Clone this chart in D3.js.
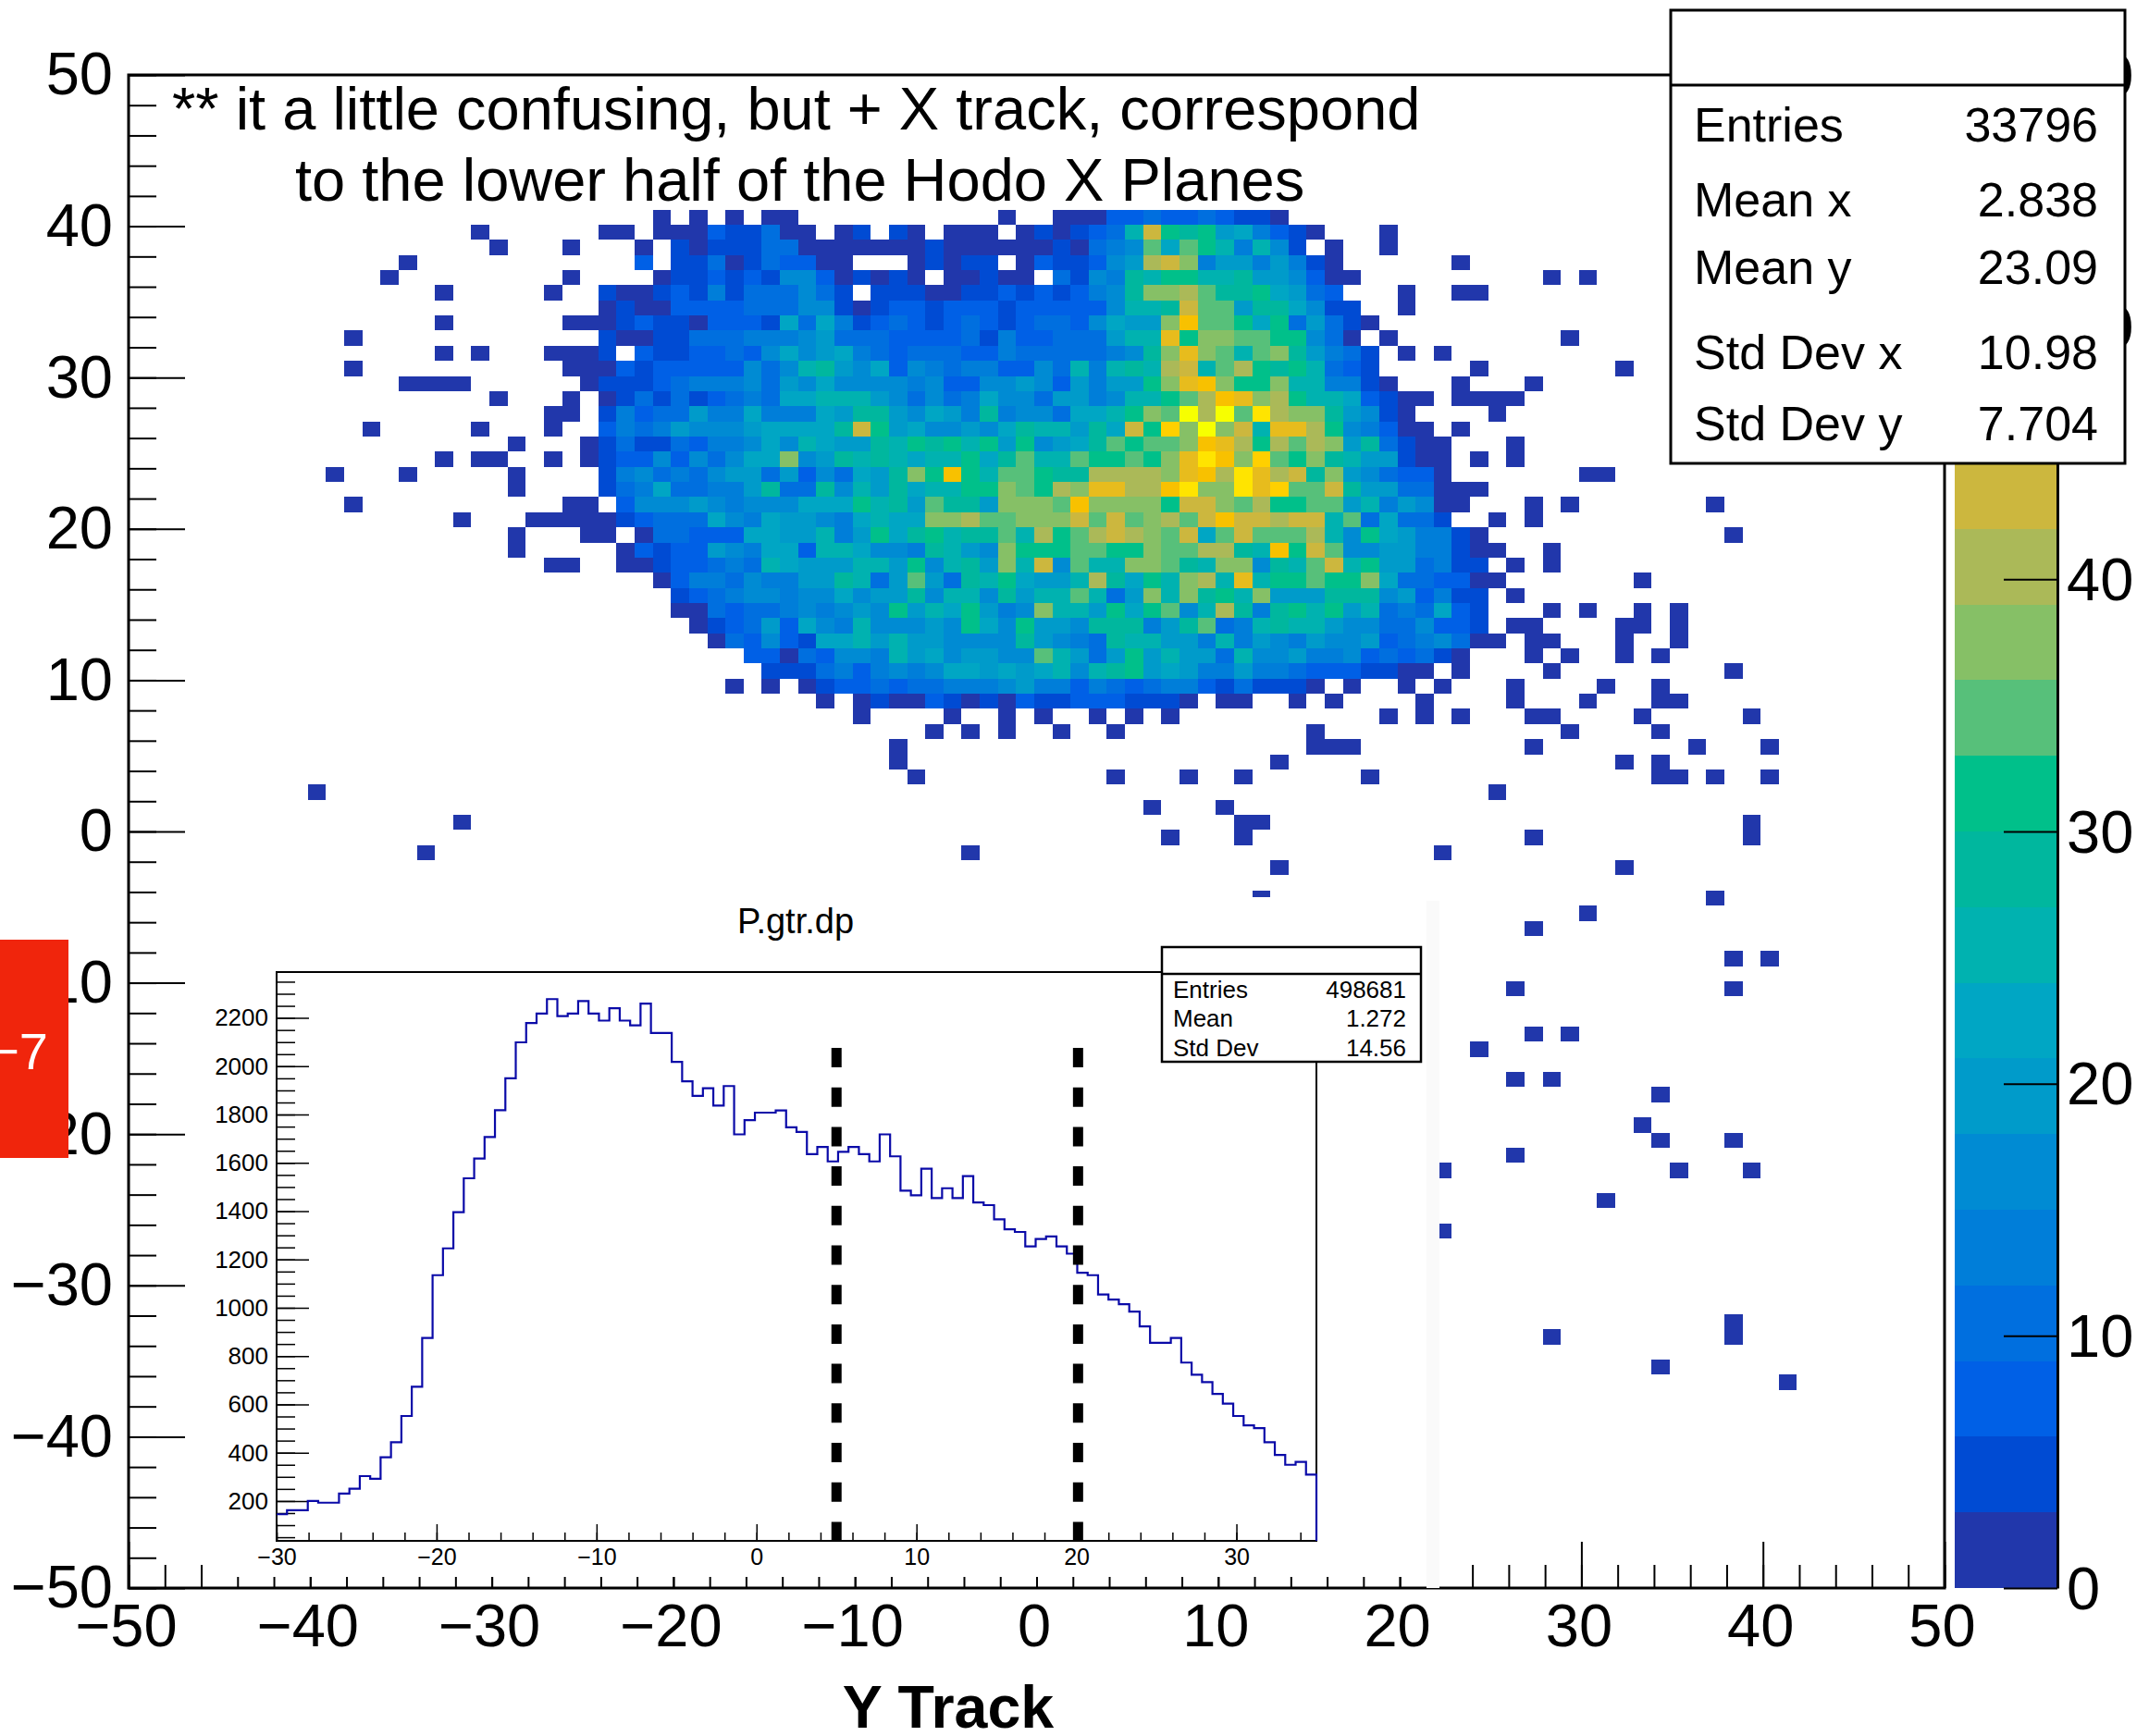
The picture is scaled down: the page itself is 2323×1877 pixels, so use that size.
<!DOCTYPE html>
<html>
<head>
<meta charset="utf-8">
<script src="https://cdn.jsdelivr.net/npm/d3@7"></script>
<style>
body { margin: 0; background: #fff; }
text { font-family: "Liberation Sans", sans-serif; fill: #000; }
</style>
</head>
<body>
<svg id="view" width="2323" height="1877"></svg>
<script>
// 2D histogram: each char is a colour band (0-9, a-j), "." is an empty bin
// columns are bins starting at x = -26.13, rows go down from y = 41.1
var coreRows = [
"..... 0.0.0 .00.. ..... ....0 ..000 22322 32110 ..... ..... .",
"..00. 00021 1300. 01.10 .000. 01012 38ea9 a6742 10... 0.... .",
"0...0 .1011 13300 00000 10000 00103 45b7b a8485 1.0.. 0.... .",
"....2 .1130 13220 0...0 1011. 02112 56dec 46646 410.. ....0 .",
"0.... 01121 21552 01010 .0010 0.315 498aa 88966 5200. ..... .",
"..100 12141 33353 1.111 00112 12124 59ccd b99a7 632.. .0..0 0",
"..010 02222 33355 10122 12221 22222 5889e bb699 7511. .0... .",
"00012 11022 21737 41232 12321 23325 766cg bba7a 36310 ..... .",
"..100 11333 44456 33322 22314 22333 688fa ccbba a530. 0.... .",
"001.2 11223 25756 74323 33224 33333 459cf cb8bc 96431 .0.0. .",
"00021 22222 53589 65725 43442 25384 898de 8bda9 a8321 ..... 0",
".0111 23444 53657 55554 52255 65264 66acf gcaac 88441 0...0 .",
"0.013 13123 43778 88653 53475 53664 588ab dgfcd a8872 100.0 0",
"0.142 33644 74447 69965 76494 55377 8acbj djbid cc965 10... .",
"..243 46555 67777 9ea67 55657 98869 7eahc jce8f fda54 200.0 .",
".0131 13244 57587 6698a 9a8a6 a5679 babbc gfdad bdc69 3100. .",
".0122 52535 77c56 98987 88a79 b88ba abacf igchb ac986 6100. 0",
"..145 34356 63625 3769c aga8b ba99d dddcf gdifd e9c65 3220. .",
"..134 73344 69339 58697 88aac badcf fddgi ccifh bbe96 63300 0",
"00.25 55654 55577 7a896 b996c ccbgc cccae ecbda abb68 46500 .",
"00012 33375 47665 47877 ccdbb ccceb ebcdb egeed ee8b3 7331. .",
".00.0 33222 77668 46a79 a899b 8dabd edcbe 7bebb bd85a 76441 0",
"...02 12265 47728 87554 9865c aaabb aacbb dd98g aeb55 66441 0",
"0..00 12234 38766 6886a 5896c 8e5b8 8ccb9 8cc59 8be8a 66341 1",
"..... 02443 54466 9836b 6398a 7668d 97a8c d8f8a abaac 73322 0",
"..... .1234 55455 75669 58859 688b8 36c8c 9a8c6 66999 56241 1",
"..... .0032 33454 565a6 87a64 5c886 a7ab5 8d949 a8a68 34372 1",
"..... ..012 36275 48555 65a75 a6659 99469 b3489 88655 33522 1",
"..... ...03 25217 78686 65555 96543 98866 48465 46556 23453 0",
"..... ..... 22032 55486 75665 5b863 6a686 63855 64452 32310 .",
"..... ..... .1113 42454 57767 67858 9a676 44644 32221 100.0 .",
"..... ....0 .0.01 22323 34445 64424 32344 21311 10.0. .0.0. .",
"..... ..... ....0 .0100 21010 21122 21110 .00.. 0.0.. ..0.. .",
"..... ..... ..... .0... .0..0 .0..0 .0.0. ..... ..... 0.0.0 ."
];

// lone bins outside the core: [row, [columns]]
var strayBins = [
[1,[-5]], [2,[-4]], [3,[-9]], [4,[-10,54,56]], [5,[-7,-1]], [7,[-7]], [8,[-12,55]],
[9,[-7,-5,-1]], [10,[-12,58]], [11,[-9,-8,-7,-6,53]], [12,[-4,51,52]], [13,[-1,51]],
[14,[-11,-5,-1]], [15,[-3,52]], [16,[-7,-5,-4,-1,52]], [17,[-13,-9,-3,56,57]], [18,[-3]],
[19,[-12,53,55,63]], [20,[-6,-2,-1,51,53]], [21,[-3,64]], [22,[-3,51,54]], [23,[-1,52,54]],
[24,[51,59]], [25,[52]], [26,[54,56,59,61]], [27,[52,53,58,59,61]], [28,[51,53,54,58,61]],
[29,[53,55,58,60]], [30,[54,64]], [31,[52,57,60]], [32,[52,56,60,61]], [33,[53,54,59,65]],
[34,[20,22,24,27,30,41,55,60]], [35,[18,41,42,43,53,62,66]], [36,[18,39,58,60]],
[37,[19,30,34,37,44,60,61,63,66]], [38,[-14,51]], [39,[32,36]], [40,[-6,37,38,65]],
[41,[33,37,53,65]], [42,[-8,22,48]], [43,[39,58]], [45,[38,63]], [46,[56]], [47,[53]],
[49,[64,66]], [51,[52,64]], [54,[53,55]], [55,[50]], [57,[52,54]], [58,[60]], [60,[59]],
[61,[60,64]], [62,[52]], [63,[48,61,65]], [65,[57]], [67,[48]], [73,[64]], [74,[54,64]],
[76,[60]], [77,[67]]
];

var bandColors = ["#2137ab","#004bd3","#0060e6","#006fdf","#007ed9","#008bd3","#009bca","#00a6c4","#00b2b0","#00b79e",
	"#00c08a","#57c07a","#86c066","#abb958","#ccb73e","#e7bc1d","#f8c100","#ffd000","#ffe400","#f7ff00"];
var bandCodes = "0123456789abcdefghij";

var mainTicks = [-50,-40,-30,-20,-10,0,10,20,30,40,50];
var barTicks = [0,10,20,30,40,50,60];

// P.gtr.dp inset, 100 bins from -30 to 35
var dpCounts = [145,162,162,200,193,193,231,251,303,292,381,443,552,673,875,1135,1246,1396,1536,1618,
	1707,1818,1950,2099,2179,2218,2278,2208,2218,2270,2218,2189,2240,2189,2169,2259,2138,2138,2018,1938,
	1877,1909,1837,1918,1718,1777,1808,1808,1817,1747,1728,1636,1666,1606,1646,1666,1636,1606,1718,1627,
	1485,1466,1576,1454,1495,1454,1545,1436,1425,1366,1325,1314,1254,1285,1295,1254,1224,1145,1135,1055,
	1034,1015,984,923,855,855,875,773,723,692,643,603,552,513,502,443,391,350,362,309];
var dpXTicks = [-30,-20,-10,0,10,20,30];
var dpYTicks = [200,400,600,800,1000,1200,1400,1600,1800,2000,2200];
var dpCuts = [5,20.1];

var mainStats = [["Entries","33796",153],["Mean x","2.838",234],["Mean y","23.09",307],["Std Dev x","10.98",399],["Std Dev y","7.704",476]];
var dpStats = [["Entries","498681",1079],["Mean","1.272",1110],["Std Dev","14.56",1142]];

var svg = d3.select("#view");

var x = d3.scaleLinear().domain([-50,50]).range([139,2102]);
var y = d3.scaleLinear().domain([-50,50]).range([1717,81]);
var color = d3.scaleQuantize().domain([0,60]).range(bandColors);

function minorValues(from, to, step){
	return d3.range(from, to + step/2, step);
}

// main axes
function drawAxis(g, axis, labelSize){
	g.call(axis);
	g.selectAll("line").attr("stroke","#000").attr("stroke-width",2);
	g.selectAll("text").style("font-size",labelSize+"px").attr("font-family",null);
	g.select(".domain").remove();
}

var bins = [];
coreRows.forEach((row,r)=>{
	row.replace(/ /g,"").split("").forEach((ch,c)=>{
		if( ch != "." ) bins.push({ c: c, r: r, count: bandCodes.indexOf(ch)*3 + 1.5 });
	});
});
strayBins.forEach(d=>{
	d[1].forEach(c => bins.push({ c: c, r: d[0], count: 1 }));
});

svg.append("g").selectAll("rect").data(bins).join("rect")
	.attr("x", d => x(-26.13 + d.c))
	.attr("y", d => y(41.1 - d.r))
	.attr("width", d => x(-25.13 + d.c) - x(-26.13 + d.c))
	.attr("height", d => y(40.1 - d.r) - y(41.1 - d.r))
	.attr("fill", d => color(d.count))
	.attr("shape-rendering","crispEdges");

svg.append("g").attr("transform","translate(139,0)")
	.call(g => drawAxis(g, d3.axisLeft(y).tickValues(minorValues(-50,50,2)).tickSizeInner(-30).tickSizeOuter(0).tickFormat(""), 10));
svg.append("g").attr("transform","translate(139,0)")
	.call(g => drawAxis(g, d3.axisLeft(y).tickValues(mainTicks).tickSizeInner(-61).tickSizeOuter(0).tickPadding(17), 65));
svg.append("g").attr("transform","translate(0,1717)")
	.call(g => drawAxis(g, d3.axisBottom(x).tickValues(minorValues(-50,50,2)).tickSizeInner(-25).tickSizeOuter(0).tickFormat(""), 10));
svg.append("g").attr("transform","translate(0,1717)").attr("class","xmain")
	.call(g => drawAxis(g, d3.axisBottom(x).tickValues(mainTicks).tickSizeInner(-50).tickSizeOuter(0).tickPadding(17), 65));
svg.selectAll(".xmain text").attr("dx",-3);

svg.append("rect").attr("x",139).attr("y",81).attr("width",1963).attr("height",1636)
	.attr("fill","none").attr("stroke","#000").attr("stroke-width",3);

svg.append("text").attr("x",1025).attr("y",1868).attr("text-anchor","middle")
	.style("font-size","64.5px").style("font-weight","bold").text("Y Track");

svg.append("text").attr("x",186).attr("y",140).style("font-size","65px")
	.text("** it a little confusing, but + X track, correspond");
svg.append("text").attr("x",319).attr("y",217).style("font-size","65px")
	.text("to the lower half of the Hodo X Planes");

// colour bar
var barY = d3.scaleLinear().domain([0,60]).range([1717,81]);
svg.append("g").selectAll("rect").data(bandColors).join("rect")
	.attr("x",2113).attr("width",111)
	.attr("y",(d,i) => barY((i+1)*3))
	.attr("height",(d,i) => barY(i*3) - barY((i+1)*3))
	.attr("fill",d => d)
	.attr("shape-rendering","crispEdges");
svg.append("g").attr("transform","translate(2224,0)")
	.call(g => {
		g.call(d3.axisRight(barY).tickValues(barTicks).tickSizeInner(-58).tickSizeOuter(0).tickPadding(10));
		g.selectAll("line").attr("stroke","#000").attr("stroke-width",2);
		g.select(".domain").attr("stroke","#000").attr("stroke-width",3);
		g.selectAll("text").style("font-size","65px").attr("dy","0.34em").attr("font-family",null);
	});

// main stats box
function drawStats(left, right, top, divider, bottom, labelX, valueX, size, rows, weight){
	svg.append("rect").attr("x",left).attr("y",top).attr("width",right-left).attr("height",bottom-top)
		.attr("fill","#fff").attr("stroke","#000").attr("stroke-width",weight);
	svg.append("line").attr("x1",left).attr("x2",right).attr("y1",divider).attr("y2",divider)
		.attr("stroke","#000").attr("stroke-width",weight);
	rows.forEach(d=>{
		svg.append("text").attr("x",labelX).attr("y",d[2]).style("font-size",size+"px").text(d[0]);
		svg.append("text").attr("x",valueX).attr("y",d[2]).attr("text-anchor","end").style("font-size",size+"px").text(d[1]);
	});
}

// white cover of the pasted inset, then its faint edge
svg.append("rect").attr("x",230).attr("y",970).attr("width",1312).attr("height",735).attr("fill","#fff");
svg.append("rect").attr("x",1542).attr("y",974).attr("width",14).attr("height",743).attr("fill","#fafafa");

// inset
var dpX = d3.scaleLinear().domain([-30,35]).range([299,1423]);
var dpY = d3.scaleLinear().domain([35,2390]).range([1666,1051]);
var inset = svg.append("g");

function dpAxis(axis, tx, ty, size){
	var g = inset.append("g").attr("transform","translate("+tx+","+ty+")");
	g.call(axis);
	g.selectAll("line").attr("stroke","#000").attr("stroke-width",1.5);
	g.selectAll("text").style("font-size",size+"px").attr("font-family",null);
	g.select(".domain").remove();
	return g;
}
dpAxis(d3.axisLeft(dpY).tickValues(minorValues(50,2350,50)).tickSizeInner(-20).tickSizeOuter(0).tickFormat(""),299,0,10);
dpAxis(d3.axisLeft(dpY).tickValues(dpYTicks).tickSizeInner(-35).tickSizeOuter(0).tickPadding(9).tickFormat(d3.format("d")),299,0,26);
dpAxis(d3.axisBottom(dpX).tickValues(minorValues(-30,34,2)).tickSizeInner(-9).tickSizeOuter(0).tickFormat(""),0,1666,10);
dpAxis(d3.axisBottom(dpX).tickValues(dpXTicks).tickSizeInner(-18).tickSizeOuter(0).tickPadding(8),0,1666,25);

inset.append("rect").attr("x",299).attr("y",1051).attr("width",1124).attr("height",615)
	.attr("fill","none").attr("stroke","#000").attr("stroke-width",2);

var dpStep = d3.line()
	.x(d => dpX(d[0]))
	.y(d => dpY(d[1]))
	.curve(d3.curveStepAfter);
var dpPoints = dpCounts.map((v,i) => [-30 + i*0.65, v]);
dpPoints.push([35, dpCounts[dpCounts.length-1]]);
dpPoints.push([35, 35]);
inset.append("path").attr("d",dpStep(dpPoints)).attr("fill","none").attr("stroke","#0a0aa8").attr("stroke-width",2.2);

inset.selectAll(".cut").data(dpCuts).join("line").attr("class","cut")
	.attr("x1",d => dpX(d)).attr("x2",d => dpX(d))
	.attr("y1",dpY(2076)).attr("y2",dpY(35))
	.attr("stroke","#000").attr("stroke-width",11).attr("stroke-dasharray","21 21.7");

inset.append("text").attr("x",860).attr("y",1009).attr("text-anchor","middle").style("font-size","38px").text("P.gtr.dp");

drawStats(1256,1536,1024,1053,1148,1268,1520,26,dpStats,2.5);
drawStats(1806,2297,11,92,501,1831,2268,52,mainStats,3);

// red label stuck over the y axis
svg.append("rect").attr("x",0).attr("y",1016).attr("width",74).attr("height",236).attr("fill","#f0250c");
svg.append("text").attr("x",52).attr("y",1156).attr("text-anchor","end").style("font-size","56px").style("fill","#fff").text("\u22127");
</script>
</body>
</html>
